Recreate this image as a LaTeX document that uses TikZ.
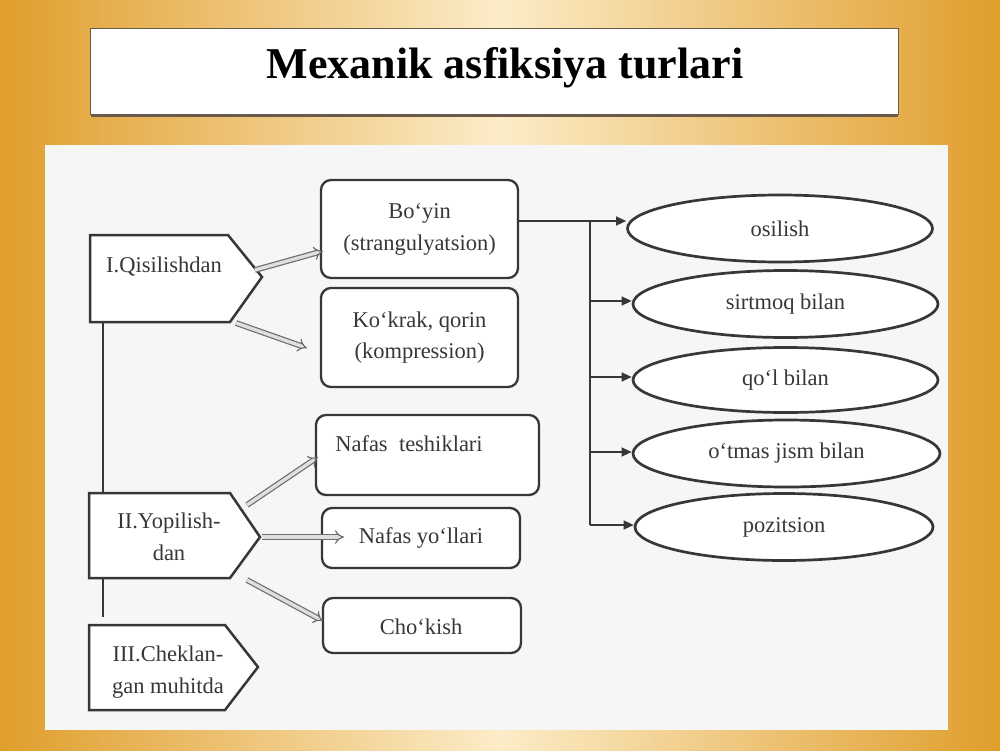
\documentclass[tikz,border=0pt]{standalone}
\usepackage{fontspec}
\setmainfont{Liberation Serif}
\usetikzlibrary{arrows.meta,shapes.geometric}
\definecolor{bgorange}{RGB}{224,158,44}
\definecolor{bgcream}{RGB}{252,236,200}
\definecolor{ink}{RGB}{55,55,55}
\definecolor{scan}{RGB}{246,246,246}
\definecolor{titleframe}{RGB}{105,90,75}
\begin{document}
\begin{tikzpicture}[x=1pt,y=-1pt,
  box/.style={draw=ink, line width=2.3pt, rounded corners=10pt, fill=white, inner sep=0pt},
  oval/.style={draw=ink, line width=2.7pt, ellipse, fill=white, minimum width=305pt, minimum height=67pt, inner sep=0pt},
  lbl/.style={text=ink, font=\fontsize{22.5}{32}\selectfont, align=center, inner sep=0pt},
  pent/.style={draw=ink, line width=2.5pt, fill=white, line join=miter},
  hollow/.style={draw=gray!85!black, double=gray!25, line width=1.2pt, double distance=3.4pt, -{Implies}},
  conn/.style={draw=ink, line width=1.3pt},
  arr/.style={conn, -{Triangle[length=10pt,width=9pt]}}
]
\useasboundingbox (0,0) rectangle (1000,750);
\shade[left color=bgorange, right color=bgorange, middle color=bgcream] (0,0) rectangle (1000,750);

% title
\draw[titleframe, line width=2.5pt] (91,116) -- (898,116);
\node[draw=titleframe, line width=1.2pt, fill=white, minimum width=808pt, minimum height=86pt, anchor=north west, inner sep=0pt] (titlebox) at (90,28) {};
\node[font=\bfseries\fontsize{44}{48}\selectfont, anchor=base] (title) at (505,78) {Mexanik asfiksiya turlari};

% scanned panel
\fill[scan] (45,145) rectangle (948,730);

% left vertical line
\coordinate (vtop) at (103,322);
\coordinate (vbot) at (103,617);
\draw[conn] (vtop) -- (vbot);

% pentagons
\draw[pent] (90,235) -- (228,235) -- (262,277) -- (230,322) -- (90,322) -- cycle;
\node[lbl] (p1) at (164,267) {I.Qisilishdan};
\draw[pent] (89,493) -- (230,493) -- (260,537) -- (230,578) -- (89,578) -- cycle;
\node[lbl] (p2) at (169,537) {II.Yopilish-\\dan};
\draw[pent] (89,625) -- (225,625) -- (258,667) -- (225,710) -- (89,710) -- cycle;
\node[lbl] (p3) at (168,672) {III.Cheklan-\\gan muhitda};

% middle boxes
\node[box, minimum width=197pt, minimum height=98pt] (by) at (419.5,229) {};
\node[lbl] (byt) at (419.5,229) {Bo‘yin\\(strangulyatsion)};
\node[box, minimum width=197pt, minimum height=99pt] (kk) at (419.5,337.5) {};
\node[lbl, font=\fontsize{22.5}{31}\selectfont] (kkt) at (419.5,337.5) {Ko‘krak, qorin\\(kompression)};
\node[box, minimum width=223pt, minimum height=80pt] (nt) at (427.5,455) {};
\node[lbl] (ntt) at (409,444) {Nafas~~teshiklari};
\node[box, minimum width=198pt, minimum height=60pt] (ny) at (421,538) {};
\node[lbl] (nyt) at (421,538) {Nafas yo‘llari};
\node[box, minimum width=198pt, minimum height=55pt] (ck) at (422,625.5) {};
\node[lbl] (ckt) at (421,627) {Cho‘kish};

% ellipses
\node[oval] (o1) at (780,228.5) {};
\node[lbl] at (o1) {osilish};
\node[oval] (o2) at (785.5,304) {};
\node[lbl] at (o2) {sirtmoq bilan};
\node[oval, minimum height=65pt] (o3) at (785.5,380) {};
\node[lbl] at (o3) {qo‘l bilan};
\node[oval, minimum width=307pt] (o4) at (786.5,453.5) {};
\node[lbl] at (o4) {o‘tmas jism bilan};
\node[oval, minimum width=298pt] (o5) at (784,527) {};
\node[lbl] at (o5) {pozitsion};

% bus
\coordinate (b1) at (590,221);
\coordinate (b2) at (590,301);
\coordinate (b3) at (590,377);
\coordinate (b4) at (590,452);
\coordinate (b5) at (590,525);
\draw[conn] (by.east |- b1) -- (b1);
\draw[conn] (b1) -- (b5);
\draw[arr] (b1) -- (b1 -| o1.west);
\draw[arr] (b2) -- (b2 -| o2.west);
\draw[arr] (b3) -- (b3 -| o3.west);
\draw[arr] (b4) -- (b4 -| o4.west);
\draw[arr] (b5) -- (b5 -| o5.west);

% hollow arrows
\coordinate (h1s) at (255,270); \coordinate (h1e) at (323,251);
\coordinate (h2s) at (236,323); \coordinate (h2e) at (307,348);
\coordinate (h3s) at (247,505); \coordinate (h3e) at (318,457);
\coordinate (h4s) at (262,537); \coordinate (h4e) at (344,537);
\coordinate (h5s) at (247,580); \coordinate (h5e) at (323,621);
\draw[hollow] (h1s) -- (h1e);
\draw[hollow] (h2s) -- (h2e);
\draw[hollow] (h3s) -- (h3e);
\draw[hollow] (h4s) -- (h4e);
\draw[hollow] (h5s) -- (h5e);
\end{tikzpicture}
\end{document}
